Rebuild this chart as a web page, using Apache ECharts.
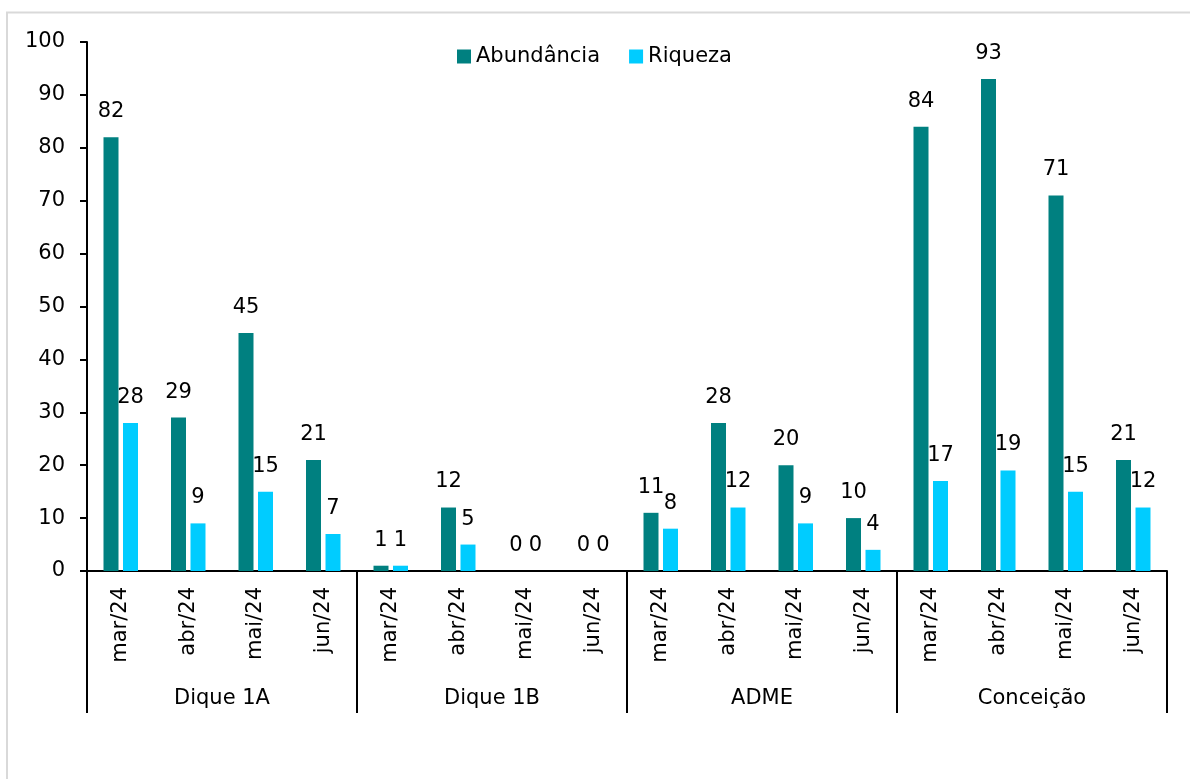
<!DOCTYPE html>
<html>
<head>
<meta charset="utf-8">
<script src="https://cdn.jsdelivr.net/npm/echarts@6/dist/echarts.min.js"></script>
<style>
html,body{margin:0;padding:0;background:#fff;}
#chart{width:1190px;height:779px;}
</style>
</head>
<body>
<div id="chart"></div>
<script>
const months = ['mar/24','abr/24','mai/24','jun/24','mar/24','abr/24','mai/24','jun/24','mar/24','abr/24','mai/24','jun/24','mar/24','abr/24','mai/24','jun/24'];
const groups = ['Dique 1A','Dique 1B','ADME','Conceição'];
const abundancia = [82,29,45,21, 1,12,0,0, 11,28,20,10, 84,93,71,21];
const riqueza = [28,9,15,7, 1,5,0,0, 8,12,9,4, 17,19,15,12];
const seriesNames = ['Abundância','Riqueza'];
const colors = ['#008080','#00CCFF'];

const FONT = 'DejaVu Sans';
const FS = 21;

const chart = echarts.init(document.getElementById('chart'), null, {renderer:'canvas'});
chart.setOption({
  backgroundColor:'#fff',
  animation:false,
  textStyle:{fontFamily:FONT},
  graphic:[{
    type:'rect',
    shape:{x:7,y:12.5,width:1300,height:900},
    style:{fill:'none',stroke:'#d9d9d9',lineWidth:2},
    silent:true,
    z:-10
  }],
  legend:{
    left:452, top:41,
    itemWidth:14, itemHeight:14, itemGap:29,
    icon:'rect',
    textStyle:{fontFamily:FONT,fontSize:FS,color:'#000'},
    data:seriesNames
  },
  grid:{left:87,right:23,top:42,bottom:208,containLabel:false},
  xAxis:[{
    type:'category',
    data:months,
    position:'bottom',
    axisLine:{show:true,lineStyle:{color:'#000',width:2}},
    axisTick:{show:false},
    axisLabel:{rotate:90,margin:16,fontFamily:FONT,fontSize:FS,color:'#000',interval:0}
  },{
    type:'category',
    data:groups,
    position:'bottom',
    offset:0,
    axisLine:{show:false},
    axisTick:{show:true,length:142,interval:0,lineStyle:{color:'#000',width:2}},
    axisLabel:{margin:117,fontFamily:FONT,fontSize:FS,color:'#000',interval:0}
  }],
  yAxis:{
    type:'value',
    min:0,max:100,interval:10,
    axisLine:{show:true,lineStyle:{color:'#000',width:2}},
    axisTick:{show:true,length:7,lineStyle:{color:'#000',width:2}},
    splitLine:{show:false},
    axisLabel:{margin:22,fontFamily:FONT,fontSize:FS,color:'#000'}
  },
  series:[{
    name:seriesNames[0],
    type:'bar',
    xAxisIndex:0,
    data:abundancia,
    barWidth:15,
    barGap:'30%',
    itemStyle:{color:colors[0]},
    label:{show:true,position:'top',distance:15,fontFamily:FONT,fontSize:FS,color:'#000'}
  },{
    name:seriesNames[1],
    type:'bar',
    xAxisIndex:0,
    data:riqueza,
    barWidth:15,
    barGap:'30%',
    itemStyle:{color:colors[1]},
    label:{show:true,position:'top',distance:15,fontFamily:FONT,fontSize:FS,color:'#000'}
  }]
});
</script>
</body>
</html>
